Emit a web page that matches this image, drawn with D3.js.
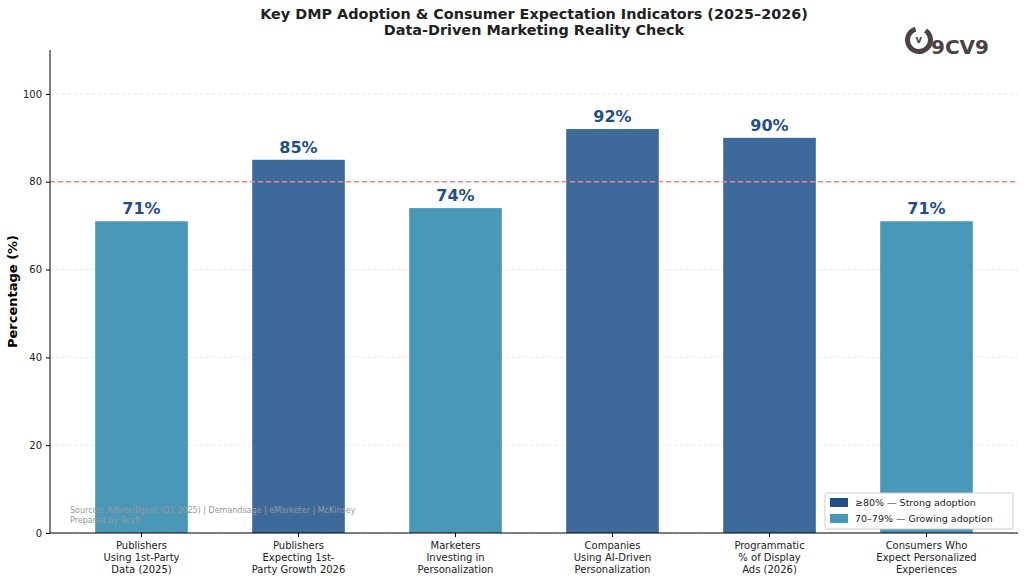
<!DOCTYPE html><html><head><meta charset="utf-8"><script src="https://cdn.jsdelivr.net/npm/d3@7"></script>
<style>body{margin:0;background:#fff}text{font-family:"DejaVu Sans",sans-serif}</style></head><body>
<svg id="c" width="1024" height="582"></svg>
<script>
const categories=["Publishers\nUsing 1st-Party\nData (2025)","Publishers\nExpecting 1st-\nParty Growth 2026","Marketers\nInvesting in\nPersonalization","Companies\nUsing AI-Driven\nPersonalization","Programmatic\n% of Display\nAds (2026)","Consumers Who\nExpect Personalized\nExperiences"];
const values=[71,85,74,92,90,71];
const yTicks=[0,20,40,60,80,100];
const threshold=80;
const dark="#3d6a9a", light="#4a98b8";
const svg=d3.select("#c");
const L=50,R=1018,T=50,B=533;
const x=d3.scaleBand().domain(d3.range(categories.length)).range([63,1005]).paddingInner(0.41).paddingOuter(0.205);
const y=d3.scaleLinear().domain([0,110]).range([B,T]);
svg.append("g").selectAll("line").data(yTicks).join("line").attr("x1",L).attr("x2",R).attr("y1",d=>y(d)).attr("y2",d=>y(d)).attr("stroke","#ddd").attr("stroke-dasharray","3,3").attr("stroke-width",0.7);
svg.append("g").selectAll("rect").data(values).join("rect").attr("x",(d,i)=>x(i)).attr("width",x.bandwidth()).attr("y",d=>y(d)).attr("height",d=>B-y(d)).attr("fill",d=>d>=80?dark:light);
svg.append("line").attr("x1",L).attr("x2",R).attr("y1",y(threshold)).attr("y2",y(threshold)).attr("stroke","#ee8888").attr("stroke-width",1.3).attr("stroke-dasharray","5,3");
svg.append("g").selectAll("text").data(values).join("text").attr("x",(d,i)=>x(i)+x.bandwidth()/2).attr("y",d=>y(d)-7).attr("text-anchor","middle").attr("font-size",16).attr("font-weight","bold").attr("fill","#1f4e8c").text(d=>d+"%");
const ya=svg.append("g").attr("transform",`translate(${L},0)`).call(d3.axisLeft(y).tickValues(yTicks).tickSize(4).tickPadding(4));
ya.select(".domain").attr("d",`M0,${T}V${B}`);
ya.selectAll("text").attr("font-size",10).attr("fill","#222");
const xa=svg.append("g").attr("transform",`translate(0,${B})`).call(d3.axisBottom(x).tickSize(4).tickFormat(""));
xa.select(".domain").attr("d",`M${L},0H${R}`);
xa.selectAll(".tick").each(function(d){const t=d3.select(this).append("text").attr("fill","#222").attr("font-size",10).attr("text-anchor","middle");categories[d].split("\n").forEach((s,k)=>t.append("tspan").attr("x",0).attr("y",16+k*12).text(s));});
svg.append("text").attr("transform",`translate(17,${(T+B)/2}) rotate(-90)`).attr("text-anchor","middle").attr("font-size",13).attr("font-weight","bold").text("Percentage (%)");
svg.append("text").attr("x",534).attr("y",19).attr("text-anchor","middle").attr("font-size",14.4).attr("font-weight","bold").attr("fill","#222").text("Key DMP Adoption & Consumer Expectation Indicators (2025–2026)");
svg.append("text").attr("x",534).attr("y",35).attr("text-anchor","middle").attr("font-size",14.4).attr("font-weight","bold").attr("fill","#222").text("Data-Driven Marketing Reality Check");
svg.append("text").attr("x",70).attr("y",513).attr("font-size",8).attr("fill","#999").text("Sources: AdIntelligent (Q1 2025) | Demandsage | eMarketer | McKinsey");
svg.append("text").attr("x",70).attr("y",523).attr("font-size",8).attr("fill","#999").text("Prepared by 9cv9");
const lg=svg.append("g").attr("transform","translate(825,493)");
lg.append("rect").attr("width",188).attr("height",36).attr("fill","#fff").attr("stroke","#ccc").attr("rx",2);
[["≥80% — Strong adoption","#1f4e8c"],["70–79% — Growing adoption",light]].forEach((r,i)=>{lg.append("rect").attr("x",5).attr("y",5+i*16).attr("width",18).attr("height",9).attr("fill",r[1]);lg.append("text").attr("x",30).attr("y",13+i*16).attr("font-size",9.5).attr("fill","#222").text(r[0]);});
const lo=svg.append("g").attr("transform","translate(919,40)");
lo.append("path").attr("d",d3.arc()({innerRadius:9,outerRadius:14,startAngle:0.6,endAngle:2*Math.PI-0.3})).attr("fill","#4a4244");
lo.append("text").attr("x",-3.5).attr("y",3).attr("font-size",10).attr("font-weight","bold").attr("fill","#4a4244").text("v");
lo.append("text").attr("x",12).attr("y",14).attr("font-size",20).attr("font-weight","bold").attr("fill","#4a4244").text("9CV9");
</script></body></html>
